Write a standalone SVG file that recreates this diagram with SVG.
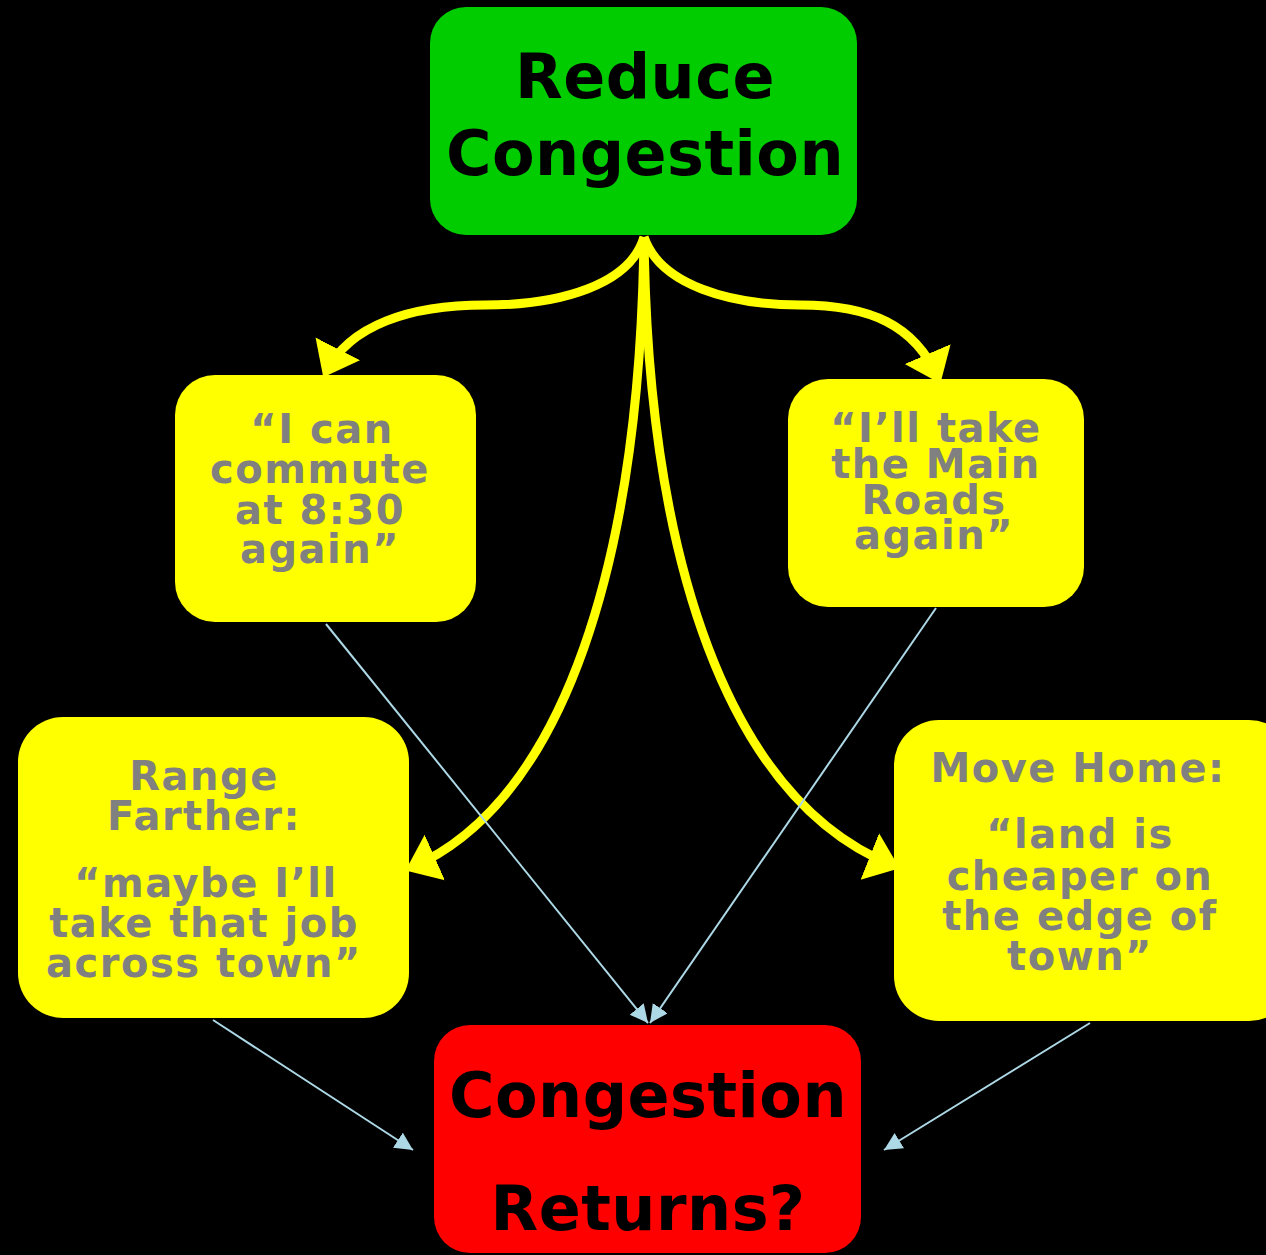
<svg xmlns="http://www.w3.org/2000/svg" width="1266" height="1255" viewBox="0 0 1266 1255">
<defs>
<style>
.big{font-family:"DejaVu Sans","Verdana",sans-serif;font-weight:bold;font-size:62px;letter-spacing:0.5px;fill:#000;text-anchor:middle}
.q{font-family:"DejaVu Sans","Verdana",sans-serif;font-weight:bold;font-size:40px;letter-spacing:1.5px;fill:#808080;text-anchor:middle}
.yl{fill:none;stroke:#ffff00;stroke-width:9}
.bl{fill:none;stroke:#add8e6;stroke-width:2}
.yb{fill:#ffff00}
</style>
<marker id="ya" markerUnits="userSpaceOnUse" markerWidth="34" markerHeight="52" refX="26" refY="25" orient="auto">
<path d="M0,0 L32,25 L0,50 z" fill="#ffff00"/>
</marker>
<marker id="ba" markerUnits="userSpaceOnUse" markerWidth="20" markerHeight="20" refX="18" refY="9" orient="auto">
<path d="M0,0 L18,9 L0,18 z" fill="#add8e6"/>
</marker>
</defs>
<rect width="1266" height="1255" fill="#000"/>
<g id="connectors">
<path class="yl" marker-end="url(#ya)" d="M644,237 C630,285 560,305 485,305 C410,305 350,325 326,372"/>
<path class="yl" marker-end="url(#ya)" d="M644,237 C660,285 730,305 800,305 C870,305 915,325 938,378"/>
<path class="yl" marker-end="url(#ya)" d="M644,237 C640,560 565,800 411,868"/>
<path class="yl" marker-end="url(#ya)" d="M644,237 C648,560 728,800 894,866"/>
<path class="bl" marker-end="url(#ba)" d="M326,624 L648,1023"/>
<path class="bl" marker-end="url(#ba)" d="M936,608 L650,1023"/>
<path class="bl" marker-end="url(#ba)" d="M213,1020 L413,1150"/>
<path class="bl" marker-end="url(#ba)" d="M1090,1023 L884,1150"/>
</g>
<g id="reduce">
<rect x="430" y="7" width="427" height="228" rx="36" fill="#00cc00"/>
<text class="big" x="645" y="98">Reduce</text>
<text class="big" x="645" y="175">Congestion</text>
</g>
<g id="commute">
<rect class="yb" x="175" y="375" width="301" height="247" rx="40"/>
<text class="q" x="322" y="443">“I can</text>
<text class="q" x="320" y="483">commute</text>
<text class="q" x="320" y="524">at 8:30</text>
<text class="q" x="320" y="563">again”</text>
</g>
<g id="mainroads">
<rect class="yb" x="788" y="379" width="296" height="228" rx="40"/>
<text class="q" x="936" y="442">“I’ll take</text>
<text class="q" x="936" y="478">the Main</text>
<text class="q" x="934" y="514">Roads</text>
<text class="q" x="934" y="549">again”</text>
</g>
<g id="range">
<rect class="yb" x="18" y="717" width="391" height="301" rx="45"/>
<text class="q" x="204" y="790">Range</text>
<text class="q" x="204" y="830">Farther:</text>
<text class="q" x="206" y="897">“maybe I’ll</text>
<text class="q" x="204" y="937">take that job</text>
<text class="q" x="204" y="977">across town”</text>
</g>
<g id="movehome">
<rect class="yb" x="894" y="720" width="400" height="301" rx="45"/>
<text class="q" x="1078" y="782">Move Home:</text>
<text class="q" x="1080" y="848">“land is</text>
<text class="q" x="1080" y="890">cheaper on</text>
<text class="q" x="1080" y="930">the edge of</text>
<text class="q" x="1080" y="970">town”</text>
</g>
<g id="returns">
<rect x="434" y="1025" width="427" height="228" rx="36" fill="#ff0000"/>
<text class="big" x="648" y="1117">Congestion</text>
<text class="big" x="648" y="1230">Returns?</text>
</g>
</svg>
